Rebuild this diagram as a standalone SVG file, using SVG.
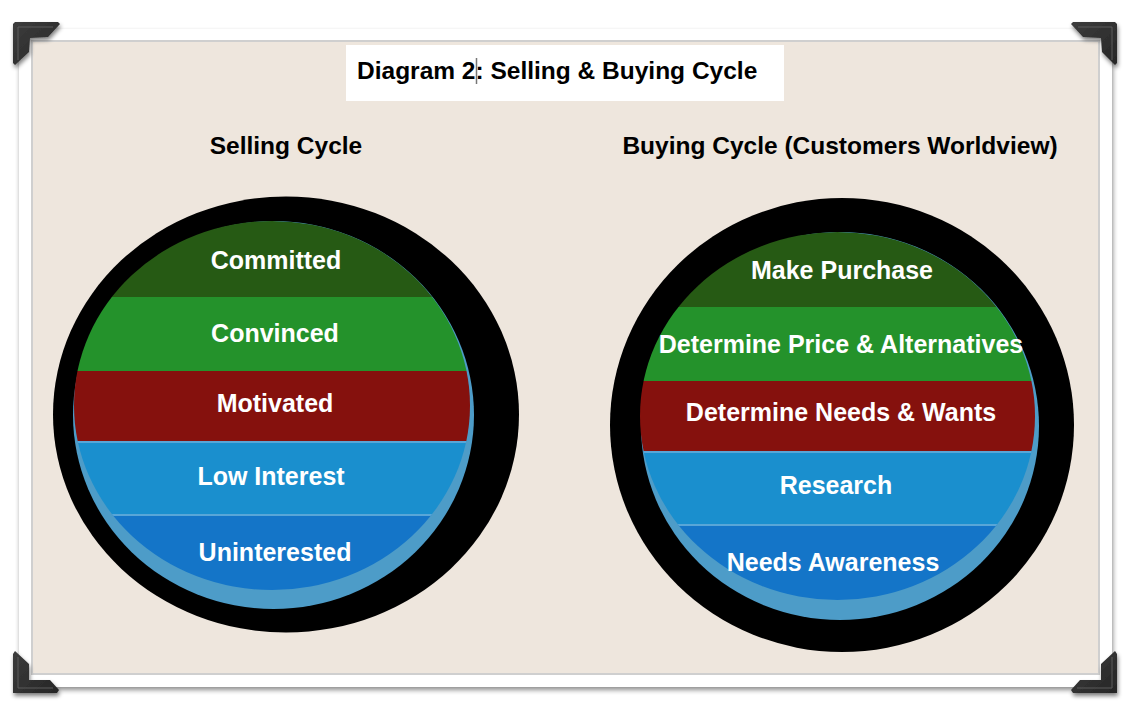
<svg xmlns="http://www.w3.org/2000/svg" width="1134" height="716" viewBox="0 0 1134 716">
<style>
text{font-family:"Liberation Sans",Arial,Helvetica,sans-serif;font-weight:bold}
.h{font-size:24.5px;fill:#000}
.lbl{font-size:25px;fill:#fff;text-anchor:middle}
.corner{fill:url(#cg);filter:url(#cs)}
.bevel{fill:none;stroke:#5a5a5a;stroke-width:1}
.sep{stroke:#58a6d8;stroke-width:2}
</style>
<defs>
<filter id="fs" x="-5%" y="-5%" width="110%" height="110%">
<feGaussianBlur in="SourceAlpha" stdDeviation="2.5"/>
<feOffset dx="1" dy="3" result="b"/>
<feComponentTransfer><feFuncA type="linear" slope="0.45"/></feComponentTransfer>
<feMerge><feMergeNode/><feMergeNode in="SourceGraphic"/></feMerge>
</filter>
<filter id="cs" x="-30%" y="-30%" width="160%" height="160%">
<feGaussianBlur in="SourceAlpha" stdDeviation="2"/>
<feOffset dx="1" dy="3"/>
<feComponentTransfer><feFuncA type="linear" slope="0.5"/></feComponentTransfer>
<feMerge><feMergeNode/><feMergeNode in="SourceGraphic"/></feMerge>
</filter>
<linearGradient id="cg" x1="0" y1="0" x2="1" y2="1">
<stop offset="0" stop-color="#3c3c3c"/>
<stop offset="1" stop-color="#262626"/>
</linearGradient>
<clipPath id="clipL"><ellipse cx="272" cy="405.5" rx="198" ry="184.5"/></clipPath>
<clipPath id="clipR"><ellipse cx="837.5" cy="416" rx="197.5" ry="184"/></clipPath>
</defs>

<rect width="1134" height="716" fill="#ffffff"/>

<g id="frame">
<rect x="19" y="29" width="1093" height="658" fill="#ffffff" filter="url(#fs)"/>
<rect x="32" y="41" width="1067" height="633" fill="#eee6dd" stroke="#cfcfcf" stroke-width="2"/>
</g>

<g id="corners">
<path class="corner" d="M13,24 L15,22 L58,22 L60,24 L48,37 L30,38 L29,52 L15,65 L13,63 Z"/>
<path class="bevel" d="M18,60 L18,27 L53,27"/>
<path class="corner" d="M1117,24 L1115,22 L1073,22 L1071,24 L1083,37 L1101,38 L1102,52 L1115,65 L1117,63 Z"/>
<path class="bevel" d="M1112,60 L1112,27 L1078,27"/>
<path class="corner" d="M13,654 L15,651 L29,664 L29,680 L50,680 L59,690 L57,693 L13,693 Z"/>
<path class="bevel" d="M18,657 L18,688 L53,688"/>
<path class="corner" d="M1117,654 L1115,651 L1101,664 L1101,680 L1080,680 L1071,690 L1073,693 L1117,693 Z"/>
<path class="bevel" d="M1112,657 L1112,688 L1077,688"/>
</g>

<g id="title">
<rect x="346" y="45" width="438" height="56" fill="#ffffff"/>
<text class="h" x="357" y="79">Diagram 2: Selling &amp; Buying Cycle</text>
<line x1="476.5" y1="58" x2="476.5" y2="84" stroke="#777" stroke-width="1.5"/>
</g>

<g id="headings">
<text class="h" x="286" y="154" text-anchor="middle">Selling Cycle</text>
<text class="h" x="840" y="154" text-anchor="middle">Buying Cycle (Customers Worldview)</text>
</g>

<g id="selling-cycle">
<ellipse cx="286" cy="414.5" rx="233" ry="218" fill="#000"/>
<ellipse cx="273.5" cy="415" rx="200.5" ry="194" fill="#4d9cc8"/>
<g clip-path="url(#clipL)">
<g id="committed"><rect x="60" y="215" width="430" height="82" fill="#265a14"/></g>
<g id="convinced"><rect x="60" y="297" width="430" height="74" fill="#24922b"/></g>
<g id="motivated"><rect x="60" y="371" width="430" height="70" fill="#85110d"/></g>
<g id="low-interest"><rect x="60" y="441" width="430" height="74" fill="#1a8fce"/></g>
<g id="uninterested"><rect x="60" y="515" width="430" height="90" fill="#1475c8"/></g>
<line class="sep" x1="60" y1="442" x2="490" y2="442"/>
<line class="sep" x1="60" y1="515" x2="490" y2="515" stroke-width="1"/>
</g>
<text class="lbl" x="276" y="269">Committed</text>
<text class="lbl" x="275" y="342">Convinced</text>
<text class="lbl" x="275" y="412">Motivated</text>
<text class="lbl" x="271" y="485">Low Interest</text>
<text class="lbl" x="275" y="561">Uninterested</text>
</g>

<g id="buying-cycle">
<ellipse cx="842" cy="425" rx="232" ry="227" fill="#000"/>
<ellipse cx="840" cy="426" rx="199" ry="194" fill="#4d9cc8"/>
<g clip-path="url(#clipR)">
<g id="make-purchase"><rect x="630" y="225" width="420" height="82" fill="#265a14"/></g>
<g id="determine-price"><rect x="630" y="307" width="420" height="74" fill="#24922b"/></g>
<g id="determine-needs"><rect x="630" y="381" width="420" height="70" fill="#85110d"/></g>
<g id="research"><rect x="630" y="451" width="420" height="74" fill="#1a8fce"/></g>
<g id="needs-awareness"><rect x="630" y="525" width="420" height="90" fill="#1475c8"/></g>
<line class="sep" x1="630" y1="452" x2="1050" y2="452"/>
<line class="sep" x1="630" y1="525" x2="1050" y2="525" stroke-width="1"/>
</g>
<text class="lbl" x="842" y="279">Make Purchase</text>
<text class="lbl" x="841" y="353">Determine Price &amp; Alternatives</text>
<text class="lbl" x="841" y="421">Determine Needs &amp; Wants</text>
<text class="lbl" x="836" y="494">Research</text>
<text class="lbl" x="833" y="571">Needs Awareness</text>
</g>
</svg>
